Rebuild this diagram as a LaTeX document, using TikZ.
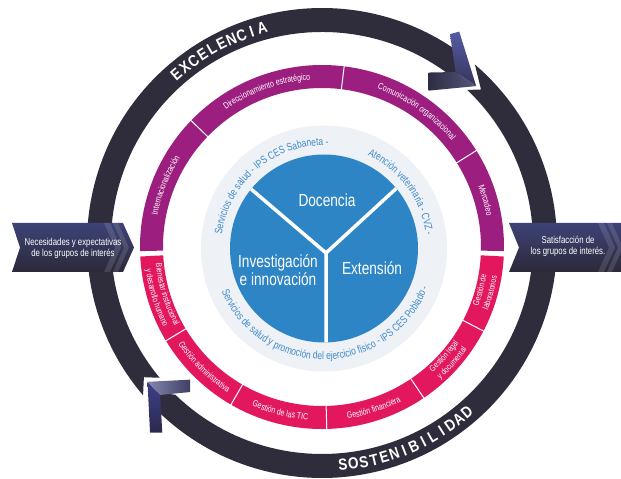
\documentclass[tikz,border=0pt]{standalone}
\usepackage{fontspec}
\setmainfont{Liberation Sans}
\newfontfamily\cond{Liberation Sans}[FakeStretch=0.78]
\newfontfamily\condbold{Liberation Sans Bold}[FakeStretch=0.85]
\usetikzlibrary{decorations.text}
\definecolor{darkring}{HTML}{2F2C3C}
\definecolor{mpurple}{HTML}{9C1F80}
\definecolor{mpink}{HTML}{E3175E}
\definecolor{cblue}{HTML}{2E85C6}
\definecolor{tblue}{HTML}{3F8BC9}
\definecolor{lightdisk}{HTML}{EEF1F6}
\definecolor{chevA}{HTML}{565BA3}
\definecolor{chevA2}{HTML}{34355A}
\definecolor{chevB}{HTML}{2E2D42}
\definecolor{chevB2}{HTML}{55577F}
\definecolor{chevC}{HTML}{8587AE}
\definecolor{chevC2}{HTML}{3E3F63}
\definecolor{chevE}{HTML}{3D4088}
\definecolor{chevE2}{HTML}{2A2A4E}
\definecolor{boxtop}{HTML}{3E4377}
\definecolor{boxbot}{HTML}{2B2939}
\newcommand{\innerfont}{\cond\fontsize{10.8}{12}\selectfont}
\newcommand{\ringfont}{\cond\fontsize{9}{9}\selectfont}
\newcommand{\ringfontb}{\cond\fontsize{8.6}{9}\selectfont}
\newcommand{\arctext}[6]{\path[decorate,decoration={text along path,text align=center,text color=#4,text={|#5|#6}}] (#1:#3) arc[start angle=#1,end angle=#2,radius=#3];}
\tikzset{
  bluelabel/.style={text=white,font=\cond\fontsize{17.5}{15}\selectfont,inner sep=0pt,align=center},
  boxtext/.style={text=white,font=\cond\fontsize{10}{11}\selectfont,inner sep=0pt,align=center},
  outerletter/.style={text=white,font=\condbold\fontsize{16}{16}\selectfont,inner sep=0pt,anchor=center},
  divider/.style={white,line width=1pt},
  stripe/.style={white,opacity=0.12}
}
\begin{document}
\begin{tikzpicture}[x=1pt,y=1pt]
\useasboundingbox (0,0) rectangle (621,479);
\fill[white] (0,0) rectangle (621,479);
\coordinate (D) at (322,236);
\coordinate (M) at (322,232);
\coordinate (B) at (324,230.5);
% inner disks
\fill[lightdisk] (B) circle[radius=123];
\fill[cblue] (B) circle[radius=94];
\begin{scope}
  \clip (B) circle[radius=94];
  \coordinate (J) at (326,226);
  \coordinate (YL) at (227,310.5);
  \coordinate (YR) at (418,310.5);
  \coordinate (YD) at (326,120);
  \draw[white,line width=3.5pt] (YL) -- (J) -- (YR) (J) -- (YD);
\end{scope}
\node[bluelabel] (doc) at (327,279) {Docencia};
\node[bluelabel] (inv) at (278,209) {Investigación\\e innovación};
\node[bluelabel] (ext) at (372,211) {Extensión};
% inner arc texts
\begin{scope}[shift={(B)}]
  \arctext{175}{85}{103}{tblue}{\innerfont}{Servicios de salud - IPS CES Sabaneta -}
  \arctext{70}{2}{103}{tblue}{\innerfont}{Atención veterinaria - CVZ -}
  \arctext{190}{352}{111}{tblue}{\innerfont}{Servicios de salud y promoción del ejercicio físico - IPS CES Poblado -}
\end{scope}
% magenta ring
\begin{scope}[shift={(M)}]
  \fill[mpurple] (-1.3:182) arc[start angle=-1.3,end angle=181.3,radius=182] -- (181.3:159) arc[start angle=181.3,end angle=-1.3,radius=159] -- cycle;
  \fill[mpink] (183:182) arc[start angle=183,end angle=357,radius=182] -- (357:159) arc[start angle=357,end angle=183,radius=159] -- cycle;
  \foreach \a in {136,83,32,211,240,271.5,304,332.5} {\draw[divider] (\a:158) -- (\a:183);}
  \arctext{181}{136}{167.5}{white}{\ringfont}{Internacionalización}
  \arctext{136}{83}{167.5}{white}{\ringfont}{Direccionamiento estratégico}
  \arctext{80}{30}{167.5}{white}{\ringfont}{Comunicación organizacional}
  \arctext{32}{0}{167.5}{white}{\ringfont}{Mercadeo}
  \arctext{183}{211}{167}{white}{\ringfontb}{Bienestar institucional}
  \arctext{183}{211}{177.5}{white}{\ringfontb}{y desarrollo humano}
  \arctext{211}{240}{173.5}{white}{\ringfont}{Gestión administrativa}
  \arctext{240}{271.5}{173.5}{white}{\ringfont}{Gestión de las TIC}
  \arctext{271.5}{304}{173.5}{white}{\ringfont}{Gestión financiera}
  \arctext{304}{332.5}{167}{white}{\ringfontb}{Gestión legal}
  \arctext{304}{332.5}{177.5}{white}{\ringfontb}{y documental}
  \arctext{332.5}{357}{167}{white}{\ringfontb}{Gestión de}
  \arctext{332.5}{357}{177.5}{white}{\ringfontb}{laboratorios}
\end{scope}
% dark ring arrows
\begin{scope}[shift={(D)}]
  % top arc: tail at lower left, head at upper right
  \fill[darkring] (220.4:235) arc[start angle=220.4,end angle=54,radius=235] -- (49:223) -- (53:211) arc[start angle=53,end angle=219.7,radius=211] -- (217:223) -- cycle;
  % bottom arc: tail at upper right, head at lower left
  \fill[darkring] (49.4:235) arc[start angle=49.4,end angle=-134,radius=235] -- (-138:223) -- (-134:211) arc[start angle=-134,end angle=46.5,radius=211] -- (44:221) -- cycle;
  % chevron top right
  \shade[top color=chevA,bottom color=chevA2] (57:252) -- (45.5:220) -- (52:217) -- (58.5:245) -- cycle;
  \shade[left color=chevB,right color=chevB2] (45.5:220) -- (55:186) -- (58:201) -- (52:217) -- cycle;
  % chevron lower left
  \shade[top color=chevE,bottom color=chevE2] (227.8:256) -- (218.5:223) -- (223.2:222) -- (229.9:248) -- cycle;
  \shade[left color=chevC,right color=chevC2] (218.5:223) -- (226:190) -- (228.5:199) -- (223.2:222) -- cycle;
  \foreach \ch [count=\i from 0] in {E,X,C,E,L,E,N,C,I,A} {
    \pgfmathsetmacro\ang{130.8-2.8*\i}
    \path (0,0) ++(\ang:223) node[outerletter,rotate=\ang-90] (exc\i) {\ch};
  }
  \foreach \ch [count=\i from 0] in {S,O,S,T,E,N,I,B,I,L,I,D,A,D} {
    \pgfmathsetmacro\ang{275.4+2.7*\i}
    \path (0,0) ++(\ang:223) node[outerletter,rotate=\ang+90] (sos\i) {\ch};
  }
\end{scope}
% side boxes
\shade[top color=boxtop,bottom color=boxbot] (12,256) -- (123,256) -- (134,231.5) -- (123,207) -- (12,207) -- (20,231.5) -- cycle;
\fill[stripe] (104,256) -- (110,256) -- (121,231.5) -- (110,207) -- (104,207) -- (115,231.5) -- cycle;
\fill[stripe] (113,256) -- (118,256) -- (129,231.5) -- (118,207) -- (113,207) -- (124,231.5) -- cycle;
\node[boxtext] (need) at (73,231) {Necesidades y expectativas\\de los grupos de interés};
\shade[top color=boxtop,bottom color=boxbot] (509,256) -- (621,256) -- (621,207) -- (509,207) -- (519,231.5) -- cycle;
\fill[stripe] (598,256) -- (604,256) -- (615,231.5) -- (604,207) -- (598,207) -- (609,231.5) -- cycle;
\fill[stripe] (607,256) -- (612,256) -- (621,236) -- (621,227) -- (612,207) -- (607,207) -- (618,231.5) -- cycle;
\node[boxtext] (sat) at (568,232.5) {Satisfacción de\\los grupos de interés.};
\end{tikzpicture}
\end{document}
